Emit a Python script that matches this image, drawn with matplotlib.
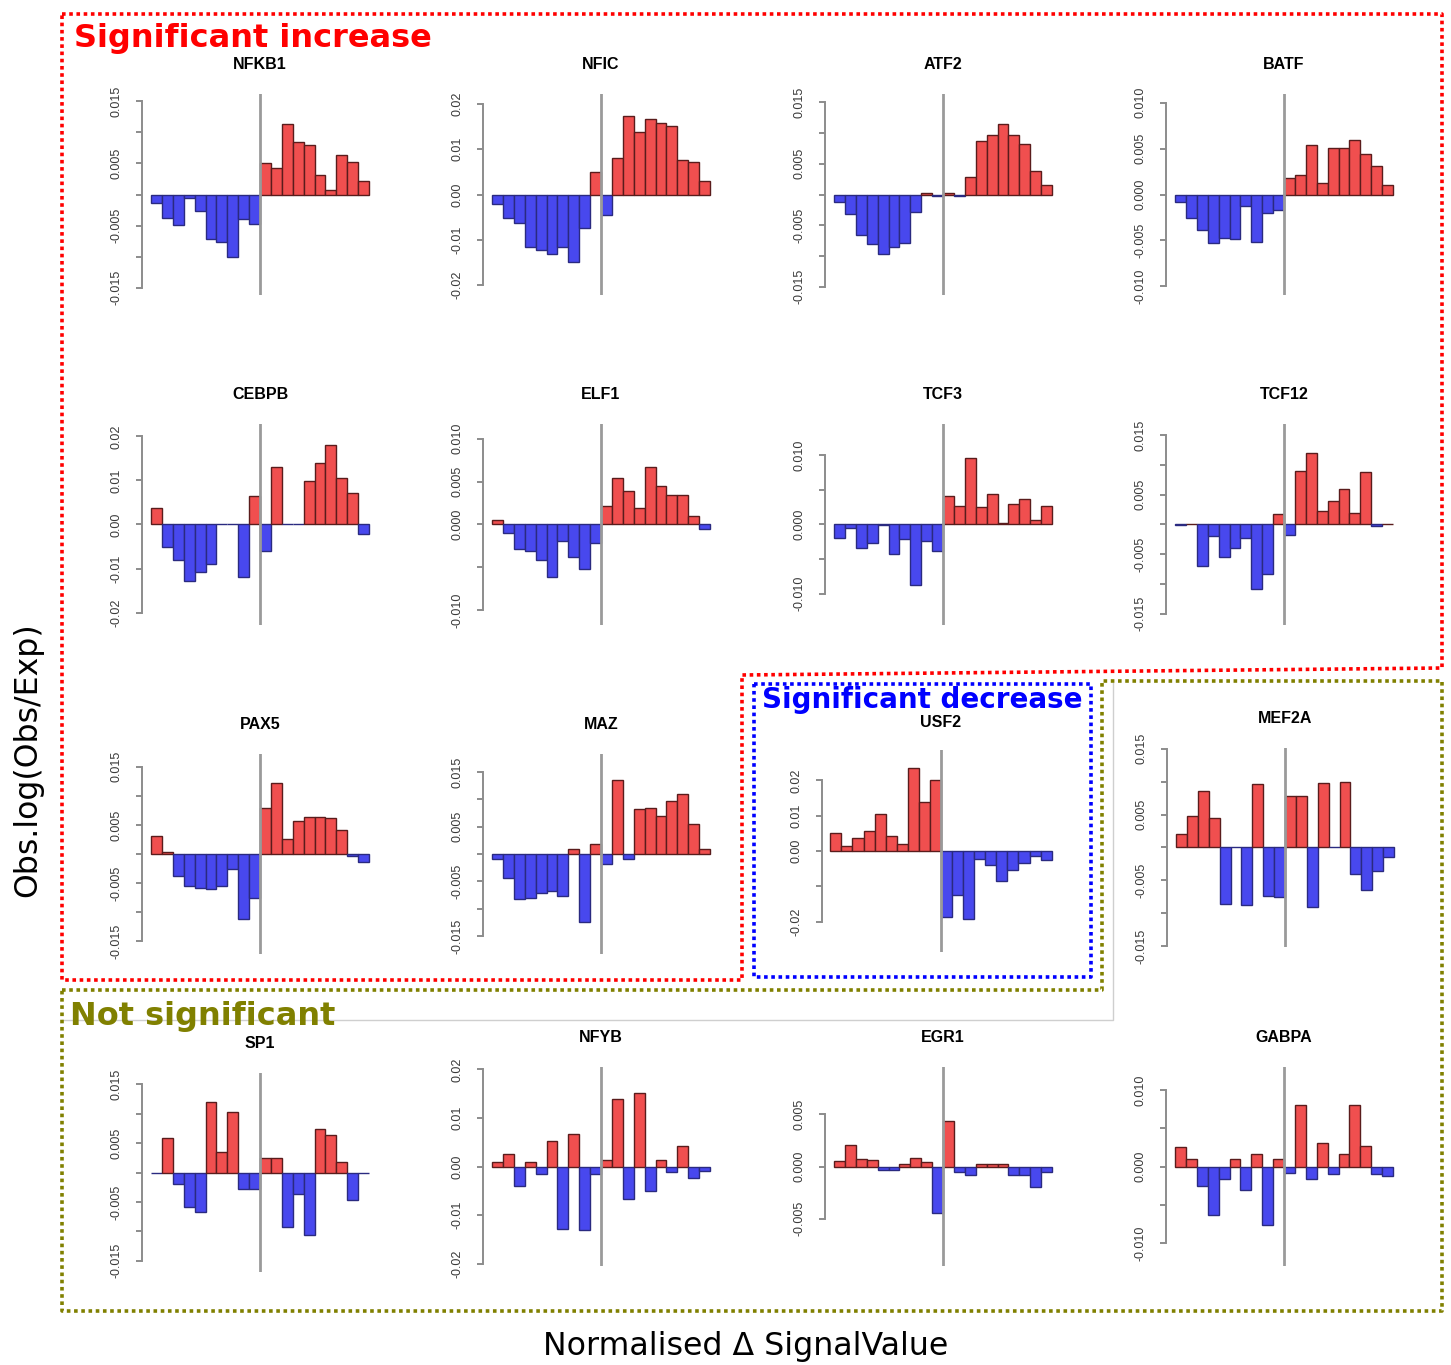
import matplotlib.pyplot as plt

W, H = 1451, 1365

# bar values (20 bins, left to right)
nfkb1 = [-0.0014, -0.0038, -0.0049, -0.0006, -0.0026, -0.0071, -0.0077, -0.0100, -0.0039, -0.0047,
         0.0050, 0.0042, 0.0113, 0.0085, 0.0079, 0.0031, 0.0007, 0.0063, 0.0052, 0.0021]
nfic = [-0.0021, -0.0052, -0.0062, -0.0117, -0.0123, -0.0132, -0.0117, -0.0149, -0.0073, 0.0050,
        -0.0045, 0.0080, 0.0173, 0.0138, 0.0166, 0.0158, 0.0152, 0.0076, 0.0071, 0.0030]
atf2 = [-0.0012, -0.0032, -0.0066, -0.0080, -0.0096, -0.0086, -0.0079, -0.0028, 0.0003, -0.0003,
        0.0003, -0.0002, 0.0029, 0.0087, 0.0097, 0.0114, 0.0096, 0.0082, 0.0039, 0.0015]
batf = [-0.0008, -0.0026, -0.0039, -0.0053, -0.0047, -0.0049, -0.0012, -0.0052, -0.0020, -0.0017,
        0.0018, 0.0021, 0.0054, 0.0013, 0.0051, 0.0051, 0.0059, 0.0044, 0.0031, 0.0010]
cebpb = [0.0038, -0.0051, -0.0081, -0.0129, -0.0108, -0.0089, 0.0, 0.0, -0.0120, 0.0064,
         -0.0061, 0.0131, 0.0, 0.0, 0.0099, 0.0140, 0.0180, 0.0105, 0.0072, -0.0022]
elf1 = [0.0005, -0.0010, -0.0029, -0.0031, -0.0041, -0.0061, -0.0019, -0.0038, -0.0052, -0.0021,
        0.0021, 0.0054, 0.0039, 0.0019, 0.0067, 0.0045, 0.0034, 0.0034, 0.0010, -0.0005]
tcf3 = [-0.0020, -0.0005, -0.0034, -0.0026, -0.0001, -0.0042, -0.0021, -0.0087, -0.0024, -0.0038,
        0.0041, 0.0026, 0.0096, 0.0025, 0.0044, 0.0002, 0.0030, 0.0037, 0.0007, 0.0027]
tcf12 = [-0.0001, 0.0001, -0.0070, -0.0019, -0.0055, -0.0039, -0.0022, -0.0108, -0.0083, 0.0017,
         -0.0017, 0.0090, 0.0120, 0.0022, 0.0040, 0.0059, 0.0020, 0.0088, -0.0002, 0.0001]
pax5 = [0.0031, 0.0003, -0.0038, -0.0055, -0.0059, -0.0060, -0.0055, -0.0025, -0.0111, -0.0075,
        0.0079, 0.0122, 0.0025, 0.0056, 0.0064, 0.0064, 0.0062, 0.0042, -0.0004, -0.0014]
maz = [-0.0009, -0.0044, -0.0083, -0.0081, -0.0072, -0.0068, -0.0077, 0.0009, -0.0124, 0.0018,
       -0.0018, 0.0135, -0.0010, 0.0083, 0.0084, 0.0069, 0.0097, 0.0110, 0.0054, 0.0009]
usf2 = [0.0051, 0.0013, 0.0036, 0.0058, 0.0106, 0.0042, 0.0020, 0.0236, 0.0138, 0.0202,
        -0.0186, -0.0126, -0.0192, -0.0023, -0.0041, -0.0085, -0.0053, -0.0033, -0.0013, -0.0025]
mef2a = [0.0020, 0.0048, 0.0086, 0.0045, -0.0085, 0.0, -0.0088, 0.0097, -0.0074, -0.0075,
         0.0078, 0.0078, -0.0090, 0.0098, 0.0, 0.0100, -0.0040, -0.0065, -0.0036, -0.0014]
sp1 = [0.0, 0.0059, -0.0019, -0.0059, -0.0067, 0.0120, 0.0034, 0.0102, -0.0028, -0.0028,
       0.0024, 0.0024, -0.0093, -0.0036, -0.0107, 0.0074, 0.0064, 0.0017, -0.0047, 0.0]
nfyb = [0.0010, 0.0025, -0.0040, 0.0010, -0.0016, 0.0053, -0.0128, 0.0067, -0.0130, -0.0016,
        0.0014, 0.0139, -0.0067, 0.0151, -0.0051, 0.0014, -0.0012, 0.0043, -0.0024, -0.0010]
egr1 = [0.0005, 0.0021, 0.0007, 0.0006, -0.0003, -0.0003, 0.0002, 0.0008, 0.0004, -0.0044,
        0.0043, -0.0005, -0.0008, 0.0002, 0.0002, 0.0002, -0.0008, -0.0008, -0.0020, -0.0005]
gabpa = [0.0026, 0.0010, -0.0025, -0.0064, -0.0016, 0.0010, -0.0031, 0.0016, -0.0076, 0.0010,
         -0.0009, 0.0080, -0.0016, 0.0031, -0.0010, 0.0016, 0.0080, 0.0027, -0.0010, -0.0012]

tf_names = ["NFKB1", "NFIC", "ATF2", "BATF", "CEBPB", "ELF1", "TCF3", "TCF12",
            "PAX5", "MAZ", "USF2", "MEF2A", "SP1", "NFYB", "EGR1", "GABPA"]
tf_values = [nfkb1, nfic, atf2, batf, cebpb, elf1, tcf3, tcf12,
             pax5, maz, usf2, mef2a, sp1, nfyb, egr1, gabpa]

# y axis ranges (half of symmetric range)
y_half = [0.0162, 0.0222, 0.01635, 0.01095, 0.0228, 0.0117, 0.0145, 0.0169,
          0.0172, 0.0183, 0.0286, 0.0151, 0.0169, 0.0205, 0.0095, 0.013]

# tick sets
t15 = [-0.015, -0.01, -0.005, 0, 0.005, 0.01, 0.015]
l15 = ["-0.015", "", "-0.005", "", "0.005", "", "0.015"]
t02 = [-0.02, -0.01, 0, 0.01, 0.02]
l02 = ["-0.02", "-0.01", "0.00", "0.01", "0.02"]
t10 = [-0.01, -0.005, 0, 0.005, 0.01]
l10_all = ["-0.010", "-0.005", "0.000", "0.005", "0.010"]
l10_elf = ["-0.010", "", "0.000", "0.005", "0.010"]
l10_alt = ["-0.010", "", "0.000", "", "0.010"]
l02_usf = ["-0.02", "", "0.00", "0.01", "0.02"]
t05 = [-0.005, 0, 0.005]
l05 = ["-0.005", "0.000", "0.005"]

tf_ticks = [(t15, l15), (t02, l02), (t15, l15), (t10, l10_all),
            (t02, l02), (t10, l10_elf), (t10, l10_alt), (t15, l15),
            (t15, l15), (t15, l15), (t02, l02_usf), (t15, l15),
            (t15, l15), (t02, l02), (t05, l05), (t10, l10_alt)]

# plot regions in pixels: left, top, width, height, title gap
col_left = [142.3, 483.3, 825.3, 1166.3]
pw = 235.5
rects = []
for top in [94, 424]:
    for cl in col_left:
        rects.append((cl, top, pw, 201, 29.5))
rects.append((col_left[0], 754, pw, 200, 29.5))
rects.append((col_left[1], 754, pw, 200, 29.5))
rects.append((821.5, 750, 239, 202, 27.5))
rects.append((1167.3, 748, pw, 199, 29.5))
rects.append((col_left[0], 1073, pw, 199, 29.5))
rects.append((col_left[1], 1067, pw, 199, 29.5))
rects.append((col_left[2], 1067, pw, 199, 29.5))
rects.append((col_left[3], 1067, pw, 199, 29.5))

red, red_edge = "#f04f4f", "#5a1c1c"
blue, blue_edge = "#4848ee", "#2a2a80"

fig = plt.figure(figsize=(W / 100, H / 100), dpi=100)

# overlay for the group boxes and labels
ov = fig.add_axes([0, 0, 1, 1])
ov.set_xlim(0, W)
ov.set_ylim(H, 0)
ov.axis("off")

dot = (0, (1, 1))
ov.plot([1113, 1113, 62], [683, 1020, 1020], color="#cfcfcf", lw=1)
ov.plot([62, 1442, 1442, 742, 742, 62, 62], [14, 14, 668, 675, 980, 980, 14],
        color="red", lw=2.6, ls=dot)
ov.plot([754, 1091, 1091, 754, 754], [684, 684, 977, 977, 684], color="blue", lw=2.6, ls=dot)
ov.plot([62, 1102, 1102, 1442, 1442, 62, 62], [990, 990, 681, 681, 1311, 1311, 990],
        color="#808000", lw=2.6, ls=dot)

ov.text(74, 38, "Significant increase", color="red", fontsize=23, fontweight="bold",
        va="center", ha="left")
ov.text(762, 700, "Significant decrease", color="blue", fontsize=20, fontweight="bold",
        va="center", ha="left")
ov.text(70, 1016, "Not significant", color="#808000", fontsize=23, fontweight="bold",
        va="center", ha="left")
ov.text(28, 760, "Obs.log(Obs/Exp)", rotation=90, fontsize=22.7, ha="center", va="center")
ov.text(746, 1347, "Normalised \u0394 SignalValue", fontsize=22.8, ha="center", va="center")

for name, vals, (ticks, labels), half, (l, t, w, h, gap) in zip(tf_names, tf_values, tf_ticks, y_half, rects):
    ax = fig.add_axes([l / W, 1 - (t + h) / H, w / W, h / H])
    ax.patch.set_alpha(0)
    x = list(range(len(vals)))
    cols = [red if v > 0 else blue for v in vals]
    edges = [red_edge if v > 0 else blue_edge for v in vals]
    ax.bar(x, vals, width=1, align="edge", color=cols, edgecolor=edges, linewidth=1.0, zorder=2)
    ax.axvline(10, color="#9a9a9a", lw=2, zorder=3)
    ax.set_xlim(-0.8, 20.8)
    ax.set_ylim(-half, half)
    for s in ["top", "right", "bottom"]:
        ax.spines[s].set_visible(False)
    ax.spines["left"].set_bounds(min(ticks), max(ticks))
    ax.spines["left"].set_color("#8c8c8c")
    ax.spines["left"].set_linewidth(1.4)
    ax.set_xticks([])
    ax.set_yticks(ticks)
    ax.set_yticklabels(labels, rotation=90, va="center", fontsize=9, color="#3a3a3a",
                       family="Liberation Sans")
    ax.tick_params(axis="y", length=4, width=1.4, color="#8c8c8c", pad=10)
    ax.annotate(name, xy=(0.5, 1), xycoords="axes fraction", xytext=(0, gap * 0.72),
                textcoords="offset points", ha="center", va="center", fontsize=11.5,
                fontweight="bold", family="Liberation Sans")

fig.savefig("out.png", dpi=100)
